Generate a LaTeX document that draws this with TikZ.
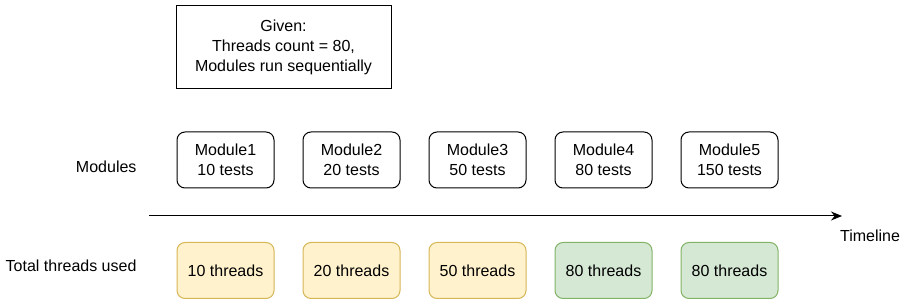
\documentclass[tikz,border=0pt]{standalone}
\usepackage{fontspec}
\setmainfont{Liberation Sans}
\usepackage{xcolor}
\usepackage{tikz}
\usetikzlibrary{arrows.meta, positioning}
\definecolor{lowfill}{HTML}{FFF2CC}
\definecolor{lowline}{HTML}{D6B656}
\definecolor{fullfill}{HTML}{D5E8D4}
\definecolor{fullline}{HTML}{82B366}
\begin{document}
\begin{tikzpicture}[
  x=1pt, y=-1pt,
  node distance = 0pt and 28pt,
  txt/.style    = {font=\fontsize{16}{20}\selectfont, align=center},
  given/.style  = {txt, draw, line width=1pt,
                   minimum width=215pt, minimum height=83pt},
  mod/.style    = {txt, draw, rounded corners=8pt, line width=1pt,
                   minimum width=97pt, minimum height=56pt},
  low/.style    = {mod, draw=lowline, fill=lowfill},
  full/.style   = {mod, draw=fullline, fill=fullfill},
  arr/.style    = {-{Stealth[length=11pt, width=9pt]}, line width=1pt}
]
\useasboundingbox (0,0) rectangle (906,304);
% Given box
\node[given] (giv) at (283.5,47.5) {Given:\\Threads count = 80,\\Modules run sequentially};

% Modules
\node[mod] (m1) at (225.5,160) {Module1\\10 tests};
\node[mod, right=of m1] (m2) {Module2\\20 tests};
\node[mod, right=of m2] (m3) {Module3\\50 tests};
\node[mod, right=of m3] (m4) {Module4\\80 tests};
\node[mod, right=of m4] (m5) {Module5\\150 tests};

% Threads used
\node[low] (t1) at (225.5,270.5) {10 threads};
\node[low,  right=of t1] (t2) {20 threads};
\node[low,  right=of t2] (t3) {50 threads};
\node[full, right=of t3] (t4) {80 threads};
\node[full, right=of t4] (t5) {80 threads};

% Row labels
\node[txt, anchor=east] (lmod) at (140,167) {Modules};
\node[txt, anchor=east] (lthr) at (140,266) {Total threads used};

% Timeline
\coordinate (tl0) at (149,216);
\coordinate (tl1) at (842,216);
\draw[arr] (tl0) -- (tl1);
\node[txt] (tl) at (870,236) {Timeline};
\end{tikzpicture}
\end{document}
